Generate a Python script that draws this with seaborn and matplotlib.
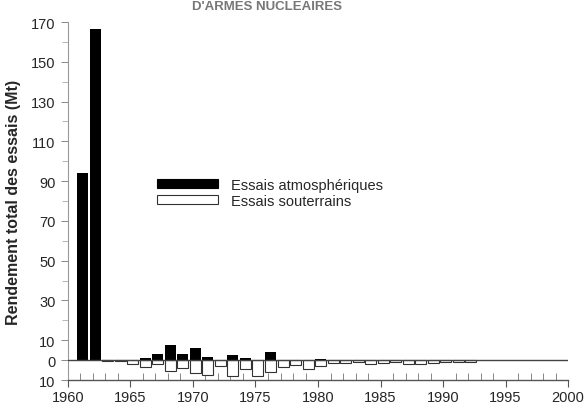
import numpy as np
import pandas as pd
import matplotlib
matplotlib.use("Agg")
import matplotlib.pyplot as plt
import seaborn as sns
from matplotlib.ticker import MultipleLocator, FixedLocator, FuncFormatter
from matplotlib.patches import Patch

sns.set_style("ticks")
plt.rcParams['font.family'] = ['Liberation Sans', 'DejaVu Sans']

# Atmospheric tests yield (Mt)
atm_years = [1961, 1962, 1966, 1967, 1968, 1969, 1970, 1971, 1973, 1974, 1976, 1980]
atm_vals = [94, 166.5, 1.2, 3, 7.5, 3, 6, 1.5, 2.6, 1, 4.2, 0.7]

# Underground tests yield (Mt), drawn below zero
und_years = list(range(1963, 1993))
und_vals = [0.3, 0.5, 1.7, 3.7, 2.0, 5.4, 4.2, 6.5, 7.4, 2.9,
            8.2, 4.5, 7.9, 5.9, 3.7, 2.5, 4.5, 2.9, 1.2, 1.2,
            1.0, 2.0, 1.2, 1.0, 2.0, 2.0, 1.2, 1.0, 1.0, 0.8]

yticks = [-10, 0, 10, 30, 50, 70, 90, 110, 130, 150, 170]

df_atm = pd.DataFrame({"year": np.array(atm_years) + 0.2, "val": atm_vals})
df_und = pd.DataFrame({"year": np.array(und_years) + 0.2, "val": -np.array(und_vals)})

fig = plt.figure(figsize=(5.85, 4.10), dpi=100)
ax = fig.add_axes([0.1162, 0.0707, 0.971 - 0.1162, 0.9439 - 0.0707])

sns.barplot(data=df_und, x="year", y="val", native_scale=True, width=0.88,
            color="white", edgecolor="#333333", linewidth=0.8, errorbar=None,
            saturation=1, ax=ax)
sns.barplot(data=df_atm, x="year", y="val", native_scale=True, width=0.88,
            color="black", edgecolor="black", linewidth=0, errorbar=None,
            saturation=1, ax=ax)

ax.plot([1960, 2000], [0, 0], color="#444444", lw=1.0, zorder=3)

ax.set_xlim(1960, 2000)
ax.set_ylim(-10, 170)
ax.xaxis.set_major_locator(MultipleLocator(5))
ax.xaxis.set_minor_locator(MultipleLocator(1))
ax.yaxis.set_major_locator(FixedLocator(yticks))
ax.yaxis.set_minor_locator(FixedLocator([20, 40, 60, 80, 100, 120, 140, 160]))
ax.yaxis.set_major_formatter(FuncFormatter(lambda v, p: f"{abs(int(v))}"))

ax.tick_params(axis="x", which="major", direction="out", length=5, width=0.8,
               color="#555555", labelsize=10.5, pad=2)
ax.tick_params(axis="x", which="minor", direction="in", length=5, width=0.7,
               color="#888888")
ax.tick_params(axis="y", which="major", direction="out", length=5, width=0.7,
               color="#888888", labelsize=10.5, pad=4)
ax.tick_params(axis="y", which="minor", direction="out", length=4, width=0.6,
               color="#aaaaaa")

for s in ["top", "right"]:
    ax.spines[s].set_visible(False)
ax.spines["left"].set_color("#999999")
ax.spines["left"].set_linewidth(0.8)
ax.spines["bottom"].set_color("#555555")
ax.spines["bottom"].set_linewidth(1.0)

ax.set_xlabel("")
ax.set_ylabel("Rendement total des essais (Mt)", fontsize=11.5, fontweight="bold",
              labelpad=7)

handles = [Patch(facecolor="black", edgecolor="black", linewidth=0.8),
           Patch(facecolor="white", edgecolor="#333333", linewidth=0.8)]
leg = ax.legend(handles, ["Essais atmosphériques", "Essais souterrains"],
                loc="upper left", bbox_to_anchor=(0.178, 0.565), frameon=False,
                handlelength=4.2, handleheight=0.55, handletextpad=0.85,
                labelspacing=0.15, fontsize=10.5, borderpad=0, borderaxespad=0)

fig.text(0.457, 1 - 1 / 410, "D'ARMES NUCLEAIRES", ha="center", va="top",
         fontsize=9.5, fontweight="bold", color="#777777")

fig.savefig("out.png", dpi=100)
